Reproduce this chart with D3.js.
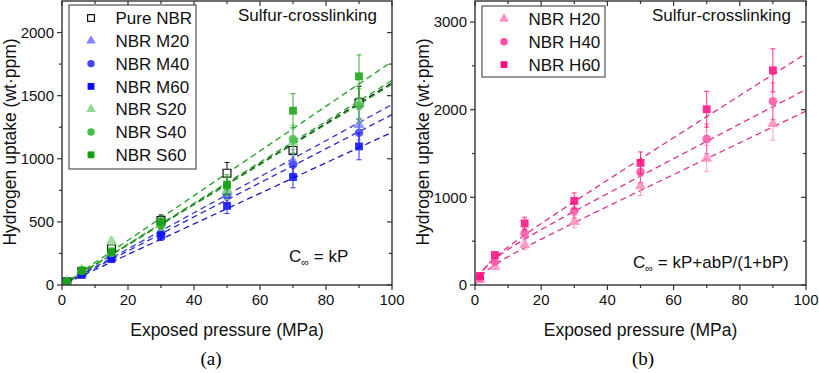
<!DOCTYPE html>
<html>
<head>
<meta charset="utf-8">
<script src="https://cdn.jsdelivr.net/npm/d3@7"></script>
<style>
  body { margin: 0; background: #fff; }
  svg { display: block; font-family: "Liberation Sans", Arial, sans-serif; }
</style>
</head>
<body>
<div id="chart"></div>
<script>
// Exposed pressures (MPa), same for every sample
const pressure = [1.5, 6, 15, 30, 50, 70, 90];

// Panel (a) - pure / M / S series
const namesA = ['Pure NBR', 'NBR M20', 'NBR M40', 'NBR M60', 'NBR S20', 'NBR S40', 'NBR S60'];
const uptakePure = [25, 105, 286, 510, 886, 1066, 1444];
const uptakeM20 = [22, 95, 235, 425, 740, 980, 1270];
const uptakeM40 = [20, 88, 220, 410, 706, 952, 1206];
const uptakeM60 = [18, 80, 205, 389, 627, 855, 1098];
const uptakeS20 = [28, 120, 344, 480, 750, 1130, 1450];
const uptakeS40 = [26, 112, 254, 476, 780, 1156, 1420];
const uptakeS60 = [27, 115, 265, 500, 795, 1381, 1653];
const errPure = [3, 10, 25, 45, 85, 100, 130];
const errM20 = [2, 9, 22, 40, 70, 95, 120];
const errM40 = [2, 8, 20, 38, 65, 90, 115];
const errM60 = [2, 8, 20, 36, 60, 85, 106];
const errS20 = [3, 12, 32, 45, 72, 105, 135];
const errS40 = [3, 11, 25, 45, 75, 110, 135];
const errS60 = [3, 11, 26, 47, 78, 135, 170];
// fitted slope k of C = kP
const slopeA = [16.0, 14.3, 13.5, 12.1, 16.2, 15.9, 17.7];

// Panel (b) - H series
const namesB = ['NBR H20', 'NBR H40', 'NBR H60'];
const uptakeH20 = [60, 208, 455, 721, 1131, 1443, 1841];
const uptakeH40 = [80, 265, 589, 846, 1291, 1667, 2096];
const uptakeH60 = [103, 342, 703, 960, 1393, 2005, 2449];
const errH20 = [8, 25, 50, 70, 110, 150, 190];
const errH40 = [10, 30, 60, 80, 125, 170, 210];
const errH60 = [12, 35, 70, 90, 125, 204, 246];
// fitted k, a, b of C = kP + abP/(1+bP)
const fitK = [18.0, 19.6, 23.9];
const fitA = [190, 280, 260];
const fitB = [0.3, 0.3, 0.3];

const xTicks = [0, 20, 40, 60, 80, 100];
const yTicksA = [0, 500, 1000, 1500, 2000];
const yTicksB = [0, 1000, 2000, 3000];

const svg = d3.select('#chart').append('svg')
  .attr('width', 819)
  .attr('height', 373);

const styleA = [
  { fill: '#fff', stroke: '#111', sym: d3.symbolSquare, line: '#111', open: true },
  { fill: '#8585ff', stroke: '#8585ff', sym: d3.symbolTriangle, line: '#3a3ad0' },
  { fill: '#4646f5', stroke: '#4646f5', sym: d3.symbolCircle, line: '#2a2ac8' },
  { fill: '#0a0aff', stroke: '#0a0aff', sym: d3.symbolSquare, line: '#1818c0' },
  { fill: '#8fd88f', stroke: '#8fd88f', sym: d3.symbolTriangle, line: '#2aa02a' },
  { fill: '#45c045', stroke: '#45c045', sym: d3.symbolCircle, line: '#22a022' },
  { fill: '#10a010', stroke: '#10a010', sym: d3.symbolSquare, line: '#20a020' }
];
const styleB = [
  { fill: '#ff8cc0', stroke: '#ff8cc0', sym: d3.symbolTriangle, line: '#e0308f' },
  { fill: '#ff4fa3', stroke: '#ff4fa3', sym: d3.symbolCircle, line: '#e0308f' },
  { fill: '#ff0a80', stroke: '#ff0a80', sym: d3.symbolSquare, line: '#e0308f' }
];

function symSize(sym) {
  if (sym === d3.symbolSquare) return 62;
  if (sym === d3.symbolCircle) return 58;
  return 55;
}

function drawPanel(cfg) {
  const { x0, x1, y0, y1 } = cfg;
  const x = d3.scaleLinear().domain([0, 100]).range([x0, x1]);
  const y = d3.scaleLinear().domain([0, cfg.ymax]).range([y0, y1]);
  const g = svg.append('g');

  const clipId = 'clip' + cfg.id;
  svg.append('clipPath').attr('id', clipId)
    .append('rect').attr('x', x0).attr('y', y1).attr('width', x1 - x0).attr('height', y0 - y1);

  // fitted dashed lines
  const curve = d3.line().x(d => x(d[0])).y(d => y(d[1]));
  const plot = g.append('g').attr('clip-path', `url(#${clipId})`);
  cfg.fits.forEach((f, i) => {
    const pts = d3.range(0, 100.01, 0.5).map(p => [p, f(p)]);
    plot.append('path')
      .attr('d', curve(pts))
      .attr('fill', 'none')
      .attr('stroke', cfg.styles[i].line)
      .attr('stroke-width', 1.3)
      .attr('stroke-dasharray', '6,4')
      .attr('stroke-dashoffset', i * 2);
  });

  // error bars + markers
  cfg.series.forEach((s, i) => {
    const st = cfg.styles[i];
    const sg = plot.append('g').attr('opacity', st.open ? 1 : 0.85);
    pressure.forEach((p, j) => {
      const cx = x(p);
      const lo = y(s.v[j] - s.e[j]), hi = y(s.v[j] + s.e[j]);
      const col = st.open ? '#111' : st.stroke;
      sg.append('line').attr('x1', cx).attr('x2', cx).attr('y1', lo).attr('y2', hi)
        .attr('stroke', col).attr('stroke-width', 1);
      [lo, hi].forEach(yy => sg.append('line')
        .attr('x1', cx - 2.5).attr('x2', cx + 2.5).attr('y1', yy).attr('y2', yy)
        .attr('stroke', col).attr('stroke-width', 1));
    });
    sg.selectAll('path.m').data(s.v).enter().append('path')
      .attr('class', 'm')
      .attr('transform', (d, j) => `translate(${x(pressure[j])},${y(d)})`)
      .attr('d', d3.symbol().type(st.sym).size(symSize(st.sym)))
      .attr('fill', st.fill)
      .attr('stroke', st.open ? '#111' : 'none')
      .attr('stroke-width', 1.2);
  });

  // axes
  const frame = g.append('g');
  frame.append('rect').attr('x', x0).attr('y', y1).attr('width', x1 - x0).attr('height', y0 - y1)
    .attr('fill', 'none').attr('stroke', '#333').attr('stroke-width', 1.4);

  const xMinor = d3.range(10, 100, 20);
  const yMinor = d3.range(cfg.ystep / 2, cfg.ymax, cfg.ystep);
  const tk = (x1a, y1a, x2a, y2a) => frame.append('line')
    .attr('x1', x1a).attr('y1', y1a).attr('x2', x2a).attr('y2', y2a)
    .attr('stroke', '#333').attr('stroke-width', 1.2);

  xTicks.forEach(t => { tk(x(t), y0, x(t), y0 + 5); tk(x(t), y1, x(t), y1 + 5); });
  xMinor.forEach(t => { tk(x(t), y0, x(t), y0 + 3); tk(x(t), y1, x(t), y1 + 3); });
  cfg.yticks.forEach(t => { tk(x0 - 5, y(t), x0, y(t)); tk(x1 - 5, y(t), x1, y(t)); });
  yMinor.forEach(t => { tk(x0 - 3, y(t), x0, y(t)); tk(x1 - 3, y(t), x1, y(t)); });

  frame.selectAll('text.xl').data(xTicks).enter().append('text')
    .attr('x', d => x(d)).attr('y', y0 + 20)
    .attr('text-anchor', 'middle').attr('font-size', 15).attr('fill', '#111')
    .text(d => d);
  frame.selectAll('text.yl').data(cfg.yticks).enter().append('text')
    .attr('x', x0 - 8).attr('y', d => y(d)).attr('dy', '0.36em')
    .attr('text-anchor', 'end').attr('font-size', 15).attr('fill', '#111')
    .text(d => d);

  g.append('text')
    .attr('x', (x0 + x1) / 2).attr('y', 336)
    .attr('text-anchor', 'middle').attr('font-size', 17.5).attr('fill', '#111')
    .text('Exposed pressure (MPa)');
  g.append('text')
    .attr('transform', `translate(${x0 - 46},142) rotate(-90)`)
    .attr('text-anchor', 'middle').attr('font-size', 17.5).attr('fill', '#111')
    .text('Hydrogen uptake (wt\u00b7ppm)');
  g.append('text')
    .attr('x', cfg.tagX).attr('y', 365)
    .attr('text-anchor', 'middle').attr('font-size', 19)
    .attr('font-family', '"Liberation Serif", "Times New Roman", serif')
    .text(cfg.tag);

  g.append('text')
    .attr('x', cfg.noteX).attr('y', 21).attr('font-size', 17).attr('fill', '#111')
    .text('Sulfur-crosslinking');

  const eq = g.append('text')
    .attr('x', cfg.eqX).attr('y', cfg.eqY).attr('font-size', 17).attr('fill', '#111');
  eq.append('tspan').text('C');
  eq.append('tspan').attr('font-size', 11).attr('dy', 4).text('\u221e');
  eq.append('tspan').attr('dy', -4).text(' = ' + cfg.eq);

  // legend
  const lg = g.append('g');
  lg.append('rect').attr('x', cfg.leg.x).attr('y', cfg.leg.y)
    .attr('width', cfg.leg.w).attr('height', cfg.leg.h)
    .attr('fill', '#fff').attr('stroke', '#333').attr('stroke-width', 1);
  cfg.names.forEach((n, i) => {
    const st = cfg.styles[i];
    const ly = cfg.leg.y + 13 + i * 22.8;
    lg.append('path')
      .attr('transform', `translate(${cfg.leg.x + 22},${ly})`)
      .attr('d', d3.symbol().type(st.sym).size(symSize(st.sym) * 0.75))
      .attr('fill', st.fill)
      .attr('stroke', st.open ? '#111' : 'none')
      .attr('stroke-width', 1.2);
    lg.append('text')
      .attr('x', cfg.leg.x + 46.5).attr('y', ly).attr('dy', '0.36em')
      .attr('font-size', 17).attr('fill', '#111')
      .text(n);
  });
}

drawPanel({
  id: 'a', x0: 62, x1: 392, y0: 285, y1: 1,
  ymax: 2250, ystep: 500, yticks: yTicksA,
  names: namesA, styles: styleA,
  series: [
    { v: uptakePure, e: errPure }, { v: uptakeM20, e: errM20 }, { v: uptakeM40, e: errM40 },
    { v: uptakeM60, e: errM60 }, { v: uptakeS20, e: errS20 }, { v: uptakeS40, e: errS40 },
    { v: uptakeS60, e: errS60 }
  ],
  fits: slopeA.map(k => p => k * p),
  tag: '(a)', tagX: 211, noteX: 238, eqX: 289, eqY: 262, eq: 'kP',
  leg: { x: 69, y: 5, w: 127, h: 164 }
});

drawPanel({
  id: 'b', x0: 475, x1: 806, y0: 285, y1: 1,
  ymax: 3240, ystep: 1000, yticks: yTicksB,
  names: namesB, styles: styleB,
  series: [
    { v: uptakeH20, e: errH20 }, { v: uptakeH40, e: errH40 }, { v: uptakeH60, e: errH60 }
  ],
  fits: fitK.map((k, i) => p => k * p + fitA[i] * fitB[i] * p / (1 + fitB[i] * p)),
  tag: '(b)', tagX: 643, noteX: 652, eqX: 633, eqY: 268, eq: 'kP+abP/(1+bP)',
  leg: { x: 482, y: 6, w: 123, h: 71 }
});
</script>
</body>
</html>
